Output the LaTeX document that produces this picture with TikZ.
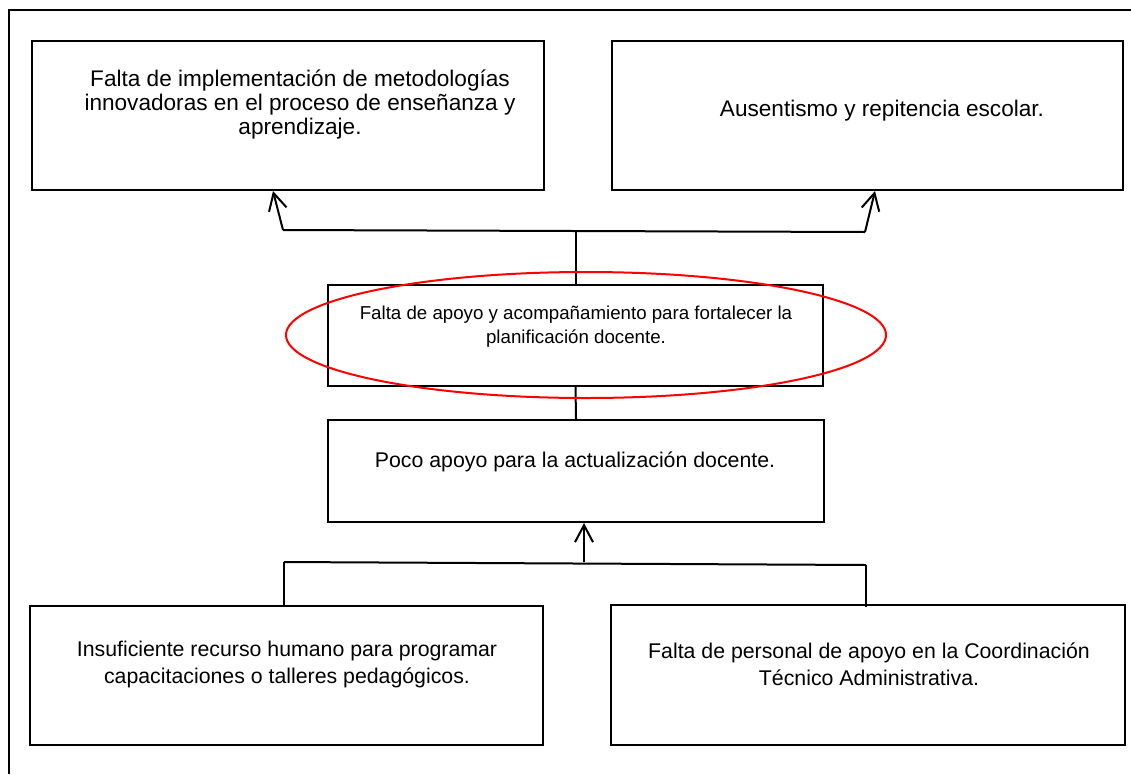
\documentclass[tikz,border=0pt]{standalone}
\usepackage{fontspec}
\setmainfont{Liberation Sans}
\usetikzlibrary{arrows.meta,calc}
\begin{document}
\begin{tikzpicture}[x=1pt,y=-1pt,
  box/.style={draw, line width=2pt, inner sep=0pt},
  txt/.style={align=center, font=\fontsize{22.6}{24}\selectfont, inner sep=0pt},
  midtxt/.style={align=center, font=\fontsize{21.3}{27}\selectfont, inner sep=0pt},
  smalltxt/.style={align=center, font=\fontsize{18.7}{24}\selectfont, inner sep=0pt},
  conn/.style={line width=2pt},
  arr/.style={conn, -{Straight Barb[length=17pt,width=18pt]}}]
\useasboundingbox (0,0) rectangle (1131,774);
\fill[white] (0,0) rectangle (1131,774);
% outer frame
\draw[conn] (1131,10) -- (9,10) -- (9,774);
% boxes
\node[box, minimum width=512pt, minimum height=149pt] (tl) at (288,115.5) {};
\node[box, minimum width=511pt, minimum height=149pt] (tr) at (867.5,115.5) {};
\node[box, minimum width=495pt, minimum height=101pt] (mid) at (575.5,335.5) {};
\node[box, minimum width=496pt, minimum height=102pt] (poco) at (576,471) {};
\node[box, minimum width=513pt, minimum height=139pt] (bl) at (286.5,675.5) {};
\node[box, minimum width=514pt, minimum height=140pt] (br) at (868,675) {};
% texts
\node[txt] (tltxt) at (300,105) {Falta de implementación de metodologías\\innovadoras en el proceso de enseñanza y\\aprendizaje.};
\node[txt] (trtxt) at (882,111) {Ausentismo y repitencia escolar.};
\node[smalltxt] (midtxt) at (576,327) {Falta de apoyo y acompañamiento para fortalecer la\\planificación docente.};
\node[midtxt] (pocotxt) at (575,462) {Poco apoyo para la actualización docente.};
\node[midtxt] (bltxt) at (287,664) {Insuficiente recurso humano para programar\\capacitaciones o talleres pedagógicos.};
\node[midtxt] (brtxt) at (869,664) {Falta de personal de apoyo en la Coordinación\\Técnico Administrativa.};
% upper connectors
\coordinate (jl) at (283,230);
\coordinate (jr) at (865,232);
\draw[conn] (jl) -- (jr);
\draw[arr] (jl) -- ([xshift=-15pt]tl.south);
\draw[arr] (jr) -- ([xshift=7.5pt]tr.south);
\draw[conn] (mid.north) -- (mid.north |- jl);
\draw[conn] (mid.south) -- (poco.north);
% lower connectors
\coordinate (kl) at (284,562);
\coordinate (kr) at (866,565);
\draw[conn] (kl) -- (kr);
\draw[conn] (kl) -- (kl |- bl.north);
\draw[conn] (kr) -- ([yshift=-3pt]kr |- br.north);
\draw[arr] ([xshift=8pt]poco.south |- kl) -- ([xshift=8pt]poco.south);
% red ellipse
\draw[red, line width=2pt] (586,335) ellipse [x radius=300, y radius=63];
\end{tikzpicture}
\end{document}
